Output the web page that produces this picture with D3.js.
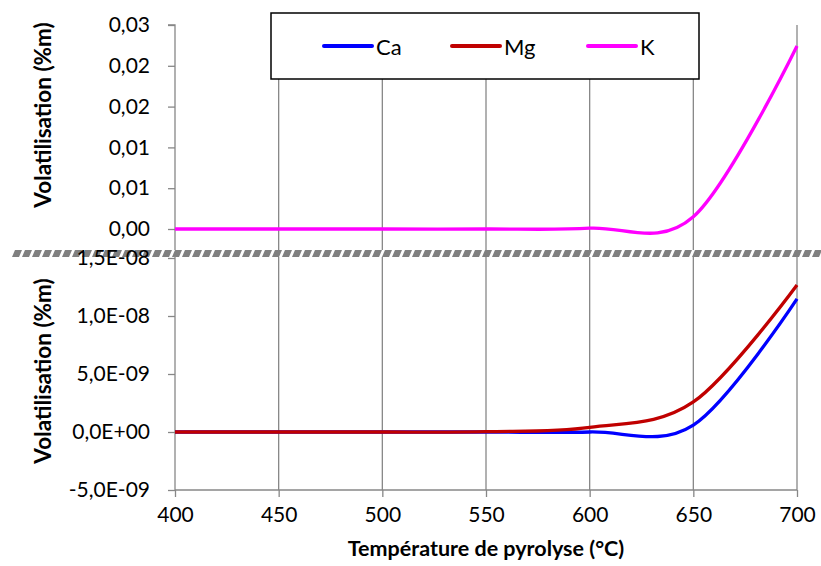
<!DOCTYPE html>
<html><head><meta charset="utf-8">
<script src="https://cdn.jsdelivr.net/npm/d3@7"></script>
<style>body{margin:0;background:#fff}svg{display:block}text{font-family:Lato,"Open Sans",sans-serif}</style>
</head><body>
<svg id="c" width="821" height="566"></svg>
<script>
const temps = [400, 450, 500, 550, 600, 650, 700];
const caValues = [0, 0, 0, 0, 0, 0.6e-9, 11.47e-9];
const mgValues = [0, 0, 0, 0.03e-9, 0.4e-9, 2.59e-9, 12.67e-9];
const kValues = [0, 0, 0, 0, 0.0001, 0.0015, 0.02243];
const xTicks = [400, 450, 500, 550, 600, 650, 700];
const topTicks = [0, 0.005, 0.01, 0.015, 0.02, 0.025];
const topTickLabels = ["0,00", "0,01", "0,01", "0,02", "0,02", "0,03"];
const botTicks = [-5e-9, 0, 5e-9, 1e-8, 1.5e-8];
const botTickLabels = ["-5,0E-09", "0,0E+00", "5,0E-09", "1,0E-08", "1,5E-08"];
const seriesNames = ["Ca", "Mg", "K"];
const seriesColors = ["#0000FF", "#C00000", "#FF00FF"];

const svg = d3.select("#c");
const FONT = "Lato, 'Open Sans', sans-serif";
const tickSize = 21;

const x = d3.scaleLinear().domain([400, 700]).range([175, 797]);
const yTop = d3.scaleLinear().domain([0, 0.025]).range([229, 25]);
const yBot = d3.scaleLinear().domain([-5e-9, 1.5e-8]).range([490, 258]);
const gridColor = "#878787";

// vertical gridlines
svg.append("g").selectAll("line").data(xTicks.slice(1)).join("line")
  .attr("x1", d => x(d)).attr("x2", d => x(d)).attr("y1", 25).attr("y2", 490)
  .attr("stroke", gridColor).attr("stroke-width", 1.3);

// top y axis
const topAxis = d3.axisLeft(yTop).tickValues(topTicks).tickSize(7).tickPadding(18)
  .tickFormat((d, i) => topTickLabels[i]);
const gT = svg.append("g").attr("transform", "translate(175,0)").call(topAxis);
gT.select(".domain").attr("d", "M-7,25H0V252").attr("stroke", gridColor).attr("stroke-width", 1.3).attr("fill", "none");

// bottom y axis
const botAxis = d3.axisLeft(yBot).tickValues(botTicks).tickSize(7).tickPadding(18)
  .tickFormat((d, i) => botTickLabels[i]);
const gB = svg.append("g").attr("transform", "translate(175,0)").call(botAxis);
gB.select(".domain").attr("d", "M0,256V490").attr("stroke", gridColor).attr("stroke-width", 1.3).attr("fill", "none");

// x axis
const xAxis = d3.axisBottom(x).tickValues(xTicks).tickSize(7).tickPadding(10).tickFormat(d3.format("d"));
const gX = svg.append("g").attr("transform", "translate(0,490)").call(xAxis);
gX.select(".domain").attr("d", "M175,0H797").attr("stroke", gridColor).attr("stroke-width", 1.3);

[gT, gB, gX].forEach(g => {
  g.attr("font-family", FONT).attr("font-size", tickSize);
  g.selectAll(".tick line").attr("stroke", gridColor).attr("stroke-width", 1.3);
  g.selectAll(".tick text").attr("fill", "#000");
});

// break band
const defs = svg.append("defs");
const pat = defs.append("pattern").attr("id", "hatch").attr("patternUnits", "userSpaceOnUse")
  .attr("width", 10).attr("height", 7).attr("x", 12).attr("y", 250);
pat.append("rect").attr("width", 10).attr("height", 7).attr("fill", "#fff");
pat.append("polygon").attr("points", "0,7 7,7 10,0 3,0").attr("fill", "#808080");
svg.append("rect").attr("x", 12).attr("y", 250).attr("width", 809).attr("height", 7).attr("fill", "url(#hatch)");

// keep the 1,5E-08 label above the band
gB.raise();

// curves
const lineTop = d3.line().x((d, i) => x(temps[i])).y(d => yTop(d)).curve(d3.curveCardinal.tension(0));
const lineBot = d3.line().x((d, i) => x(temps[i])).y(d => yBot(d)).curve(d3.curveCardinal.tension(0));
svg.append("path").attr("d", lineBot(caValues)).attr("fill", "none").attr("stroke", seriesColors[0]).attr("stroke-width", 3.3);
svg.append("path").attr("d", lineBot(mgValues)).attr("fill", "none").attr("stroke", seriesColors[1]).attr("stroke-width", 3.3);
svg.append("path").attr("d", lineTop(kValues)).attr("fill", "none").attr("stroke", seriesColors[2]).attr("stroke-width", 3.3);

// axis titles
svg.append("text").attr("transform", "translate(51,115) rotate(-90)").attr("text-anchor", "middle")
  .attr("font-family", FONT).attr("font-size", 22.5).attr("font-weight", "bold").text("Volatilisation (%m)");
svg.append("text").attr("transform", "translate(51,371) rotate(-90)").attr("text-anchor", "middle")
  .attr("font-family", FONT).attr("font-size", 22.5).attr("font-weight", "bold").text("Volatilisation (%m)");
svg.append("text").attr("x", 486).attr("y", 556).attr("text-anchor", "middle")
  .attr("font-family", FONT).attr("font-size", 21.5).attr("font-weight", "bold").text("Température de pyrolyse (°C)");

// legend
const lg = svg.append("g");
lg.append("rect").attr("x", 271).attr("y", 13).attr("width", 428).attr("height", 66)
  .attr("fill", "#fff").attr("stroke", "#000").attr("stroke-width", 1.5);
const lx = [324, 452, 588];
seriesNames.forEach((n, i) => {
  lg.append("line").attr("x1", lx[i]).attr("x2", lx[i] + 48).attr("y1", 46).attr("y2", 46)
    .attr("stroke", seriesColors[i]).attr("stroke-width", 4).attr("stroke-linecap", "round");
  lg.append("text").attr("x", lx[i] + 52).attr("y", 55).attr("font-family", FONT)
    .attr("font-size", 22).text(n);
});
</script>
</body></html>
